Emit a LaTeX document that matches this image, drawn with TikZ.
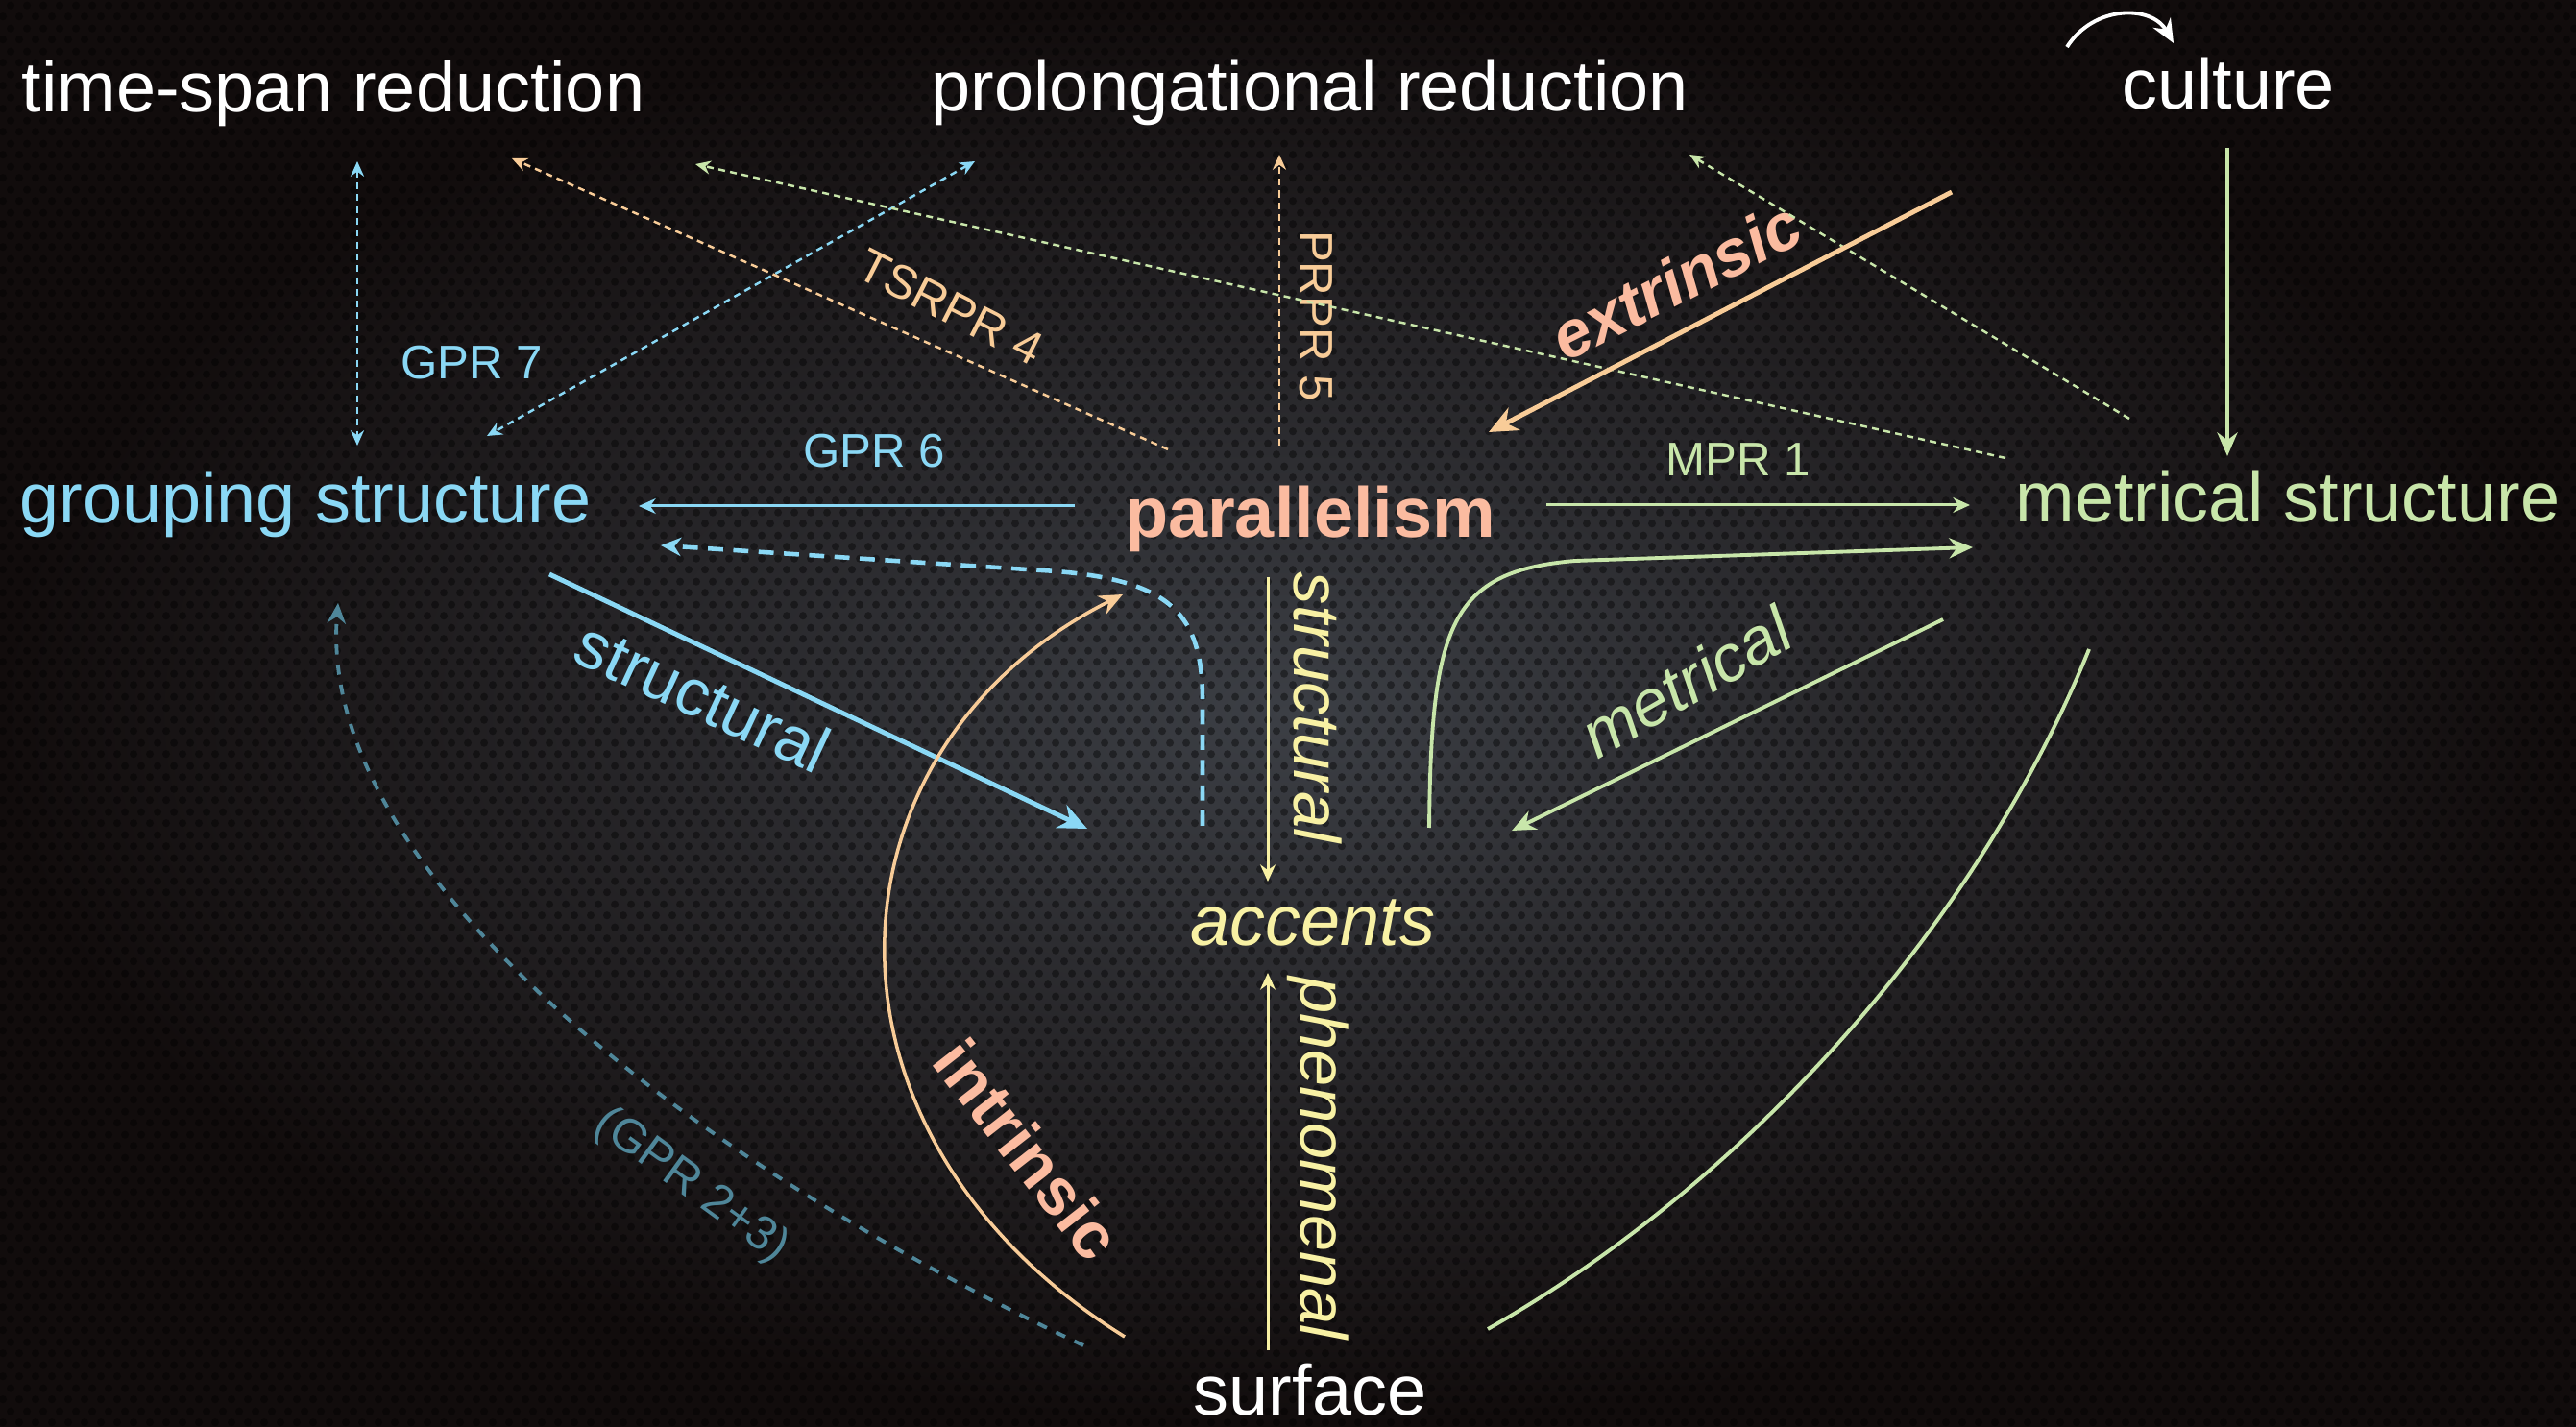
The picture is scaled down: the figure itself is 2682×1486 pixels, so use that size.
\documentclass[tikz,border=0pt]{standalone}
\usepackage{fontspec}
\setmainfont{Liberation Sans}
\usetikzlibrary{arrows.meta, patterns.meta}
\definecolor{gsblue}{HTML}{8AD8F5}
\definecolor{parsalmon}{HTML}{FBBBA0}
\definecolor{arpeach}{HTML}{F8CC98}
\definecolor{acyellow}{HTML}{F8F1A4}
\definecolor{msgreen}{HTML}{C8E6AA}
\definecolor{gprteal}{HTML}{4F8699}
\definecolor{bgmid}{HTML}{3C3F45}
\definecolor{bgedge}{HTML}{110C0C}
\tikzdeclarepattern{
  name=holes,
  type=uncolored,
  bottom left={(0pt,0pt)},
  top right={(4.84pt,6.83pt)},
  tile size={(4.84pt,6.83pt)},
  code={
    \pgfpathcircle{\pgfpoint{1.21pt}{1.71pt}}{1.2pt}
    \pgfpathcircle{\pgfpoint{3.63pt}{5.12pt}}{1.2pt}
    \pgfusepath{fill}
  }
}

\begin{document}
\begin{tikzpicture}[x=0.01cm, y=-0.01cm,
  big/.style={inner sep=0pt, anchor=base, font=\fontsize{21}{25}\selectfont},
  small/.style={inner sep=0pt, font=\fontsize{14}{17}\selectfont},
  mid/.style={inner sep=0pt, font=\fontsize{19.5}{23}\selectfont},
  thinarr/.style={line width=0.85pt, >={Stealth[length=5pt, width=4.5pt]}, ->},
  midarr/.style={line width=1.1pt, >={Stealth[length=7pt, width=6pt]}, ->},
  thickarr/.style={line width=1.4pt, >={Stealth[length=8.5pt, width=7.5pt]}, ->},
  dotarr/.style={line width=0.7pt, dash pattern=on 2pt off 1.5pt, >={Stealth[length=4.5pt, width=4pt]}, ->},
  dotdbl/.style={dotarr, <->},
  dasharr/.style={line width=1.3pt, dash pattern=on 4.5pt off 3pt, >={Stealth[length=6pt, width=5.5pt]}, ->},
  tealdash/.style={line width=1.1pt, dash pattern=on 3pt off 3pt, >={Stealth[length=6pt, width=5.5pt]}, ->}
]
  \useasboundingbox (0,0) rectangle (2682,1486);
  \shade[inner color=bgmid, outer color=bgedge] (0,0) rectangle (2682,1486);
  \fill[pattern=holes, pattern color=black, fill opacity=0.4] (0,0) rectangle (2682,1486);

  \node[big, white] (tsr) at (347,117) {time-span reduction};
  \node[big, white] (pro) at (1364,116) {prolongational reduction};
  \node[big, white] (cult) at (2320,114) {culture};
  \node[big, gsblue] (grp) at (318,545) {grouping structure};
  \node[big, parsalmon, font=\fontsize{21}{25}\selectfont\bfseries] (par) at (1364,560) {parallelism};
  \node[big, msgreen] (met) at (2382,544) {metrical structure};
  \node[big, acyellow, font=\fontsize{21}{25}\selectfont\itshape] (acc) at (1367,984) {accents};
  \node[big, white] (surf) at (1364,1473) {surface};

  \node[small, gsblue] (gpr7) at (491,378) {GPR 7};
  \node[small, gsblue] (gpr6) at (910,470) {GPR 6};
  \node[small, msgreen] (mpr1) at (1810,479) {MPR 1};
  \node[small, arpeach, rotate=-90] (prpr5) at (1370,329) {PRPR 5};
  \node[small, arpeach, rotate=-27] (tsrpr4) at (990,320) {TSRPR 4};
  \node[mid, parsalmon, font=\fontsize{19.5}{23}\selectfont\bfseries\itshape, rotate=27] (extr) at (1745,292) {extrinsic};
  \node[mid, gsblue, rotate=-25] (strb) at (732,725) {structural};
  \node[mid, acyellow, font=\fontsize{19.5}{23}\selectfont\itshape, rotate=-90] (stry) at (1372,737) {structural};
  \node[mid, acyellow, font=\fontsize{19.5}{23}\selectfont\itshape, rotate=-90] (phen) at (1372,1206) {phenomenal};
  \node[mid, msgreen, font=\fontsize{19.5}{23}\selectfont\itshape, rotate=30] (metr) at (1755,710) {metrical};
  \node[mid, parsalmon, font=\fontsize{19.5}{23}\selectfont\bfseries, rotate=-52] (intr) at (1070,1197) {intrinsic};
  \node[small, gprteal, rotate=-36] (gpr23) at (720,1235) {(GPR 2+3)};

  \coordinate (tsr-a) at (372,168);
  \coordinate (tsr-b) at (533,165);
  \coordinate (tsr-c) at (724,171);
  \coordinate (pro-a) at (1332,161);
  \coordinate (pro-b) at (1759,161);
  \coordinate (pro-c) at (1015,168);
  \coordinate (grp-a) at (372,464);
  \coordinate (grp-b) at (507,454);
  \coordinate (grp-e) at (665,527);
  \coordinate (grp-se) at (688,568);
  \coordinate (grp-s) at (572,598);
  \coordinate (grp-sw) at (352,628);
  \coordinate (par-a) at (1216,468);
  \coordinate (par-b) at (1332,464);
  \coordinate (par-w) at (1119,527);
  \coordinate (par-e) at (1610,526);
  \coordinate (par-ne) at (1550,450);
  \coordinate (par-s) at (1320,601);
  \coordinate (par-sw) at (1169,619);
  \coordinate (met-a) at (2088,477);
  \coordinate (met-b) at (2217,436);
  \coordinate (met-n) at (2319,475);
  \coordinate (met-w) at (2051,526);
  \coordinate (met-sw) at (2054,570);
  \coordinate (met-s) at (2023,645);
  \coordinate (met-se) at (2175,676);
  \coordinate (ext-a) at (2032,200);
  \coordinate (cult-s) at (2319,154);
  \coordinate (cult-a) at (2152,49);
  \coordinate (cult-b) at (2263,45);
  \coordinate (acc-nw) at (1252,860);
  \coordinate (acc-n) at (1320,918);
  \coordinate (acc-w) at (1132,863);
  \coordinate (acc-s) at (1320,1013);
  \coordinate (acc-ne) at (1488,862);
  \coordinate (acc-e) at (1574,865);
  \coordinate (surf-n) at (1320,1406);
  \coordinate (surf-w) at (1171,1392);
  \coordinate (surf-ww) at (1128,1401);
  \coordinate (surf-e) at (1549,1384);

  \draw[dotdbl, gsblue] (tsr-a) -- (grp-a);
  \draw[dotdbl, gsblue] (pro-c) -- (grp-b);
  \draw[dotarr, arpeach] (par-a) -- (tsr-b);
  \draw[dotarr, arpeach] (par-b) -- (pro-a);
  \draw[dotarr, msgreen] (met-a) -- (tsr-c);
  \draw[dotarr, msgreen] (met-b) -- (pro-b);

  \draw[midarr, white] (cult-a) .. controls (2180,5) and (2240,5) .. (cult-b);
  \draw[midarr, msgreen] (cult-s) -- (met-n);

  \draw[thinarr, gsblue] (par-w) -- (grp-e);
  \draw[thinarr, msgreen] (par-e) -- (met-w);
  \draw[thickarr, arpeach] (ext-a) -- (par-ne);
  \draw[dasharr, gsblue] (acc-nw) -- (1252,730) .. controls (1252,640) and (1220,605) .. (1100,595) -- (grp-se);

  \draw[thickarr, gsblue] (grp-s) -- (acc-w);
  \draw[thinarr, acyellow] (par-s) -- (acc-n);
  \draw[thinarr, acyellow] (surf-n) -- (acc-s);
  \draw[midarr, msgreen] (acc-ne) .. controls (1490,650) and (1510,595) .. (1640,584) -- (met-sw);
  \draw[midarr, msgreen] (met-s) -- (acc-e);
  \draw[line width=1.1pt, msgreen] (met-se) .. controls (2060,960) and (1820,1230) .. (surf-e);
  \draw[midarr, arpeach, line width=1pt] (surf-w) .. controls (830,1180) and (850,780) .. (par-sw);
  \draw[tealdash, gprteal] (surf-ww) .. controls (700,1200) and (330,900) .. (grp-sw);
\end{tikzpicture}
\end{document}
